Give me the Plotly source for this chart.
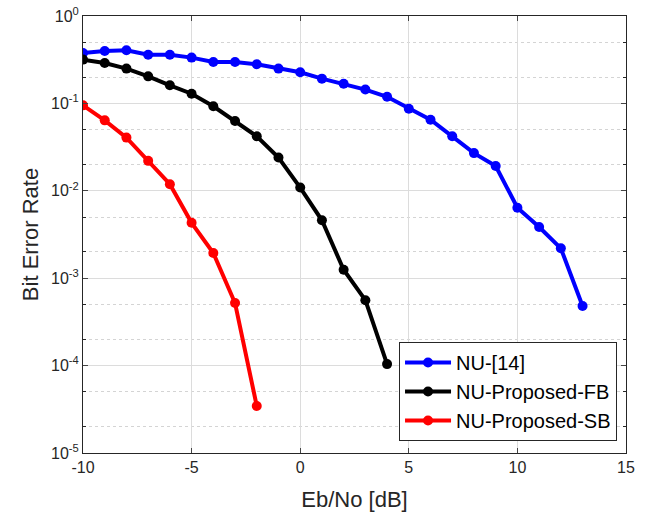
import plotly.graph_objects as go

x_blue = list(range(-10, 14))
ber_nu14 = [0.377, 0.398, 0.405, 0.361, 0.361, 0.334, 0.298, 0.298, 0.28, 0.25, 0.227,
            0.192, 0.168, 0.144, 0.119, 0.087, 0.065, 0.042, 0.027, 0.0192,
            0.0064, 0.00385, 0.0022, 0.00048]
x_black = list(range(-10, 5))
ber_fb = [0.317, 0.29, 0.25, 0.204, 0.161, 0.129, 0.0927, 0.063, 0.042, 0.024,
          0.0109, 0.0046, 0.00125, 0.00056, 0.000104]
x_red = list(range(-10, -1))
ber_sb = [0.095, 0.064, 0.0406, 0.022, 0.0119, 0.0043, 0.00194, 0.00052, 3.45e-5]

series_names = ["NU-[14]", "NU-Proposed-FB", "NU-Proposed-SB"]
series_colors = ["#0000ff", "#000000", "#ff0000"]

x_ticks = [-10, -5, 0, 5, 10, 15]
x_ticktext = ["-10", "-5", "0", "5", "10", "15"]
y_tickvals = [1e-5, 1e-4, 1e-3, 1e-2, 1e-1, 1e0]
y_ticktext = ["10<sup>-5</sup>", "10<sup>-4</sup>", "10<sup>-3</sup>",
              "10<sup>-2</sup>", "10<sup>-1</sup>", "10<sup>0</sup>"]

fig = go.Figure()
for xs, ys, name, col in zip([x_blue, x_black, x_red], [ber_nu14, ber_fb, ber_sb],
                             series_names, series_colors):
    fig.add_trace(go.Scatter(x=xs, y=ys, name=name, mode="lines+markers",
                             line=dict(color=col, width=4),
                             marker=dict(color=col, size=10, symbol="circle")))

axis_col = "#262626"
fig.update_layout(
    width=647, height=515,
    margin=dict(l=83, r=21, t=16, b=62, autoexpand=False),
    paper_bgcolor="white", plot_bgcolor="white",
    font=dict(family="Liberation Sans, Arial, sans-serif", color=axis_col, size=16),
    showlegend=True,
    legend=dict(x=0.582, y=0.254, xanchor="left", yanchor="top",
                bgcolor="white", bordercolor=axis_col, borderwidth=1,
                font=dict(size=20, color="#000000"),
                tracegroupgap=0, itemwidth=46),
)
fig.update_xaxes(
    range=[-10, 15], tickvals=x_ticks, ticktext=x_ticktext, ticks="inside", ticklen=5,
    showline=True, linecolor=axis_col, linewidth=1, mirror="ticks",
    showgrid=True, gridcolor="#dcdcdc", gridwidth=1, zeroline=False,
    tickfont=dict(size=16, color=axis_col), automargin=False,
    title=dict(text="Eb/No [dB]", font=dict(size=22, color=axis_col), standoff=16),
)
fig.update_yaxes(
    type="log", range=[-5, 0], tickvals=y_tickvals, ticktext=y_ticktext,
    ticks="inside", ticklen=5,
    showline=True, linecolor=axis_col, linewidth=1, mirror="ticks",
    showgrid=True, gridcolor="#dcdcdc", gridwidth=1, zeroline=False,
    tickfont=dict(size=16, color=axis_col), automargin=False,
    minor=dict(ticks="inside", ticklen=3, tickcolor=axis_col, showgrid=True,
               gridcolor="#d4d4d4", griddash="dot", gridwidth=1),
    title=dict(text="Bit Error Rate", font=dict(size=22, color=axis_col), standoff=6),
)

fig.write_html("out.html", config={"displayModeBar": False},
               post_script="document.body.style.margin='0';document.body.style.padding='0';")
